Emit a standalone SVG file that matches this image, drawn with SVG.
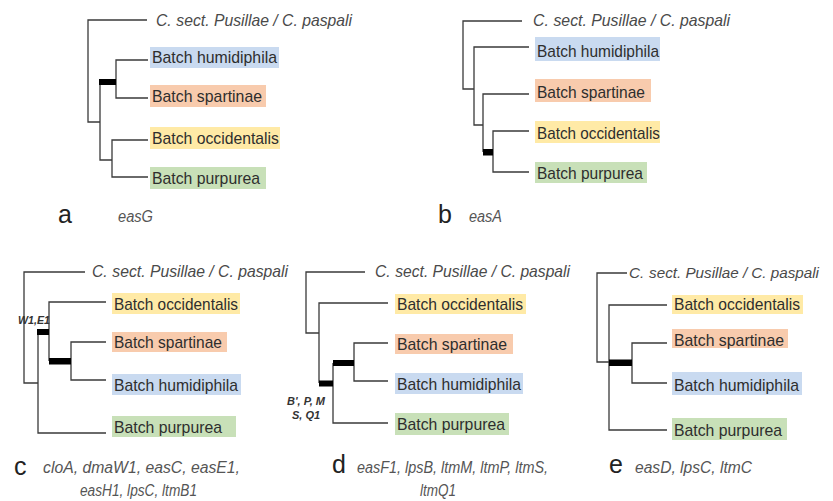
<svg xmlns="http://www.w3.org/2000/svg" width="833" height="501" viewBox="0 0 833 501">
<style>
  .ln { fill: none; stroke: #3a3a3a; stroke-width: 1.3; }
  .bar { fill: #000; }
  .lab { font-family: "Liberation Sans", Arial, sans-serif; font-size: 17px; fill: #2e2e2e; }
  .og { font-family: "Liberation Sans", Arial, sans-serif; font-size: 17px; font-style: italic; fill: #4a4a4a; }
  .pl { font-family: "Liberation Sans", Arial, sans-serif; font-size: 25px; fill: #222; }
  .gn { font-family: "Liberation Sans", Arial, sans-serif; font-size: 16px; font-style: italic; fill: #555; }
  .ev { font-family: "Liberation Sans", Arial, sans-serif; font-size: 11px; font-style: italic; font-weight: bold; fill: #333; }
  .hum { fill: #c9daf0; }
  .spa { fill: #f8cbad; }
  .occ { fill: #ffeaa6; }
  .pur { fill: #c8e0b8; }
</style>
<rect width="833" height="501" fill="#fff"/>

<g id="connectors">
  <!-- panel a -->
  <path class="ln" d="M147,20 H88 V122 H100"/>
  <path class="ln" d="M100,82 V160 H112"/>
  <path class="ln" d="M148,60 H116 V98 H148"/>
  <path class="ln" d="M148,140 H112 V177 H148"/>
  <rect class="bar" x="99" y="79" width="17" height="6"/>
  <!-- panel b -->
  <path class="ln" d="M522,21 H463 V89 H474"/>
  <path class="ln" d="M529,47 H474 V125 H483"/>
  <path class="ln" d="M529,94 H483 V152"/>
  <path class="ln" d="M529,131 H493 V172 H529"/>
  <rect class="bar" x="483" y="149" width="10" height="6.5"/>
  <!-- panel c -->
  <path class="ln" d="M85,272 H24 V383 H38"/>
  <path class="ln" d="M38,332 V433 H106"/>
  <path class="ln" d="M106,302 H49 V361"/>
  <path class="ln" d="M106,342 H71 V380 H106"/>
  <rect class="bar" x="37" y="329" width="12" height="6"/>
  <rect class="bar" x="49" y="358" width="22" height="6.5"/>
  <!-- panel d -->
  <path class="ln" d="M365,272 H306 V333 H319"/>
  <path class="ln" d="M388,303 H319 V383"/>
  <path class="ln" d="M333,363 V423 H388"/>
  <path class="ln" d="M388,343 H354 V381 H388"/>
  <rect class="bar" x="319" y="380.5" width="14" height="6"/>
  <rect class="bar" x="333" y="360" width="21" height="6"/>
  <!-- panel e -->
  <path class="ln" d="M627,273 H597 V362 H609"/>
  <path class="ln" d="M667,305 H609 V430 H667"/>
  <path class="ln" d="M667,343 H632 V383 H667"/>
  <rect class="bar" x="609" y="359.5" width="23" height="6.5"/>
</g>

<!-- panel a -->
<g id="a-out"><text class="og" x="156" y="26" textLength="196" lengthAdjust="spacingAndGlyphs">C.<tspan dx="5">sect. Pusillae / C. paspali</tspan></text></g>
<g id="a-hum"><rect class="hum" x="150" y="47" width="129" height="21"/><text class="lab" x="152" y="63" textLength="125" lengthAdjust="spacingAndGlyphs">Batch humidiphila</text></g>
<g id="a-spa"><rect class="spa" x="150" y="85" width="116" height="22"/><text class="lab" x="152" y="102" textLength="110" lengthAdjust="spacingAndGlyphs">Batch spartinae</text></g>
<g id="a-occ"><rect class="occ" x="150" y="127" width="130" height="22"/><text class="lab" x="152" y="144" textLength="127" lengthAdjust="spacingAndGlyphs">Batch occidentalis</text></g>
<g id="a-pur"><rect class="pur" x="150" y="167" width="116" height="22"/><text class="lab" x="152" y="184" textLength="108" lengthAdjust="spacingAndGlyphs">Batch purpurea</text></g>
<g id="a-cap"><text class="pl" x="58" y="223">a</text><text class="gn" x="118" y="222" textLength="35" lengthAdjust="spacingAndGlyphs">easG</text></g>

<!-- panel b -->
<g id="b-out"><text class="og" x="533" y="26" textLength="197" lengthAdjust="spacingAndGlyphs">C.<tspan dx="5">sect. Pusillae / C. paspali</tspan></text></g>
<g id="b-hum"><rect class="hum" x="535" y="37" width="125" height="24"/><text class="lab" x="537" y="57" textLength="122" lengthAdjust="spacingAndGlyphs">Batch humidiphila</text></g>
<g id="b-spa"><rect class="spa" x="535" y="79" width="116" height="23"/><text class="lab" x="537" y="98" textLength="108" lengthAdjust="spacingAndGlyphs">Batch spartinae</text></g>
<g id="b-occ"><rect class="occ" x="535" y="121" width="125" height="22"/><text class="lab" x="537" y="139" textLength="123" lengthAdjust="spacingAndGlyphs">Batch occidentalis</text></g>
<g id="b-pur"><rect class="pur" x="535" y="162" width="112" height="21"/><text class="lab" x="537" y="179" textLength="106" lengthAdjust="spacingAndGlyphs">Batch purpurea</text></g>
<g id="b-cap"><text class="pl" x="438" y="223">b</text><text class="gn" x="469" y="222" textLength="33" lengthAdjust="spacingAndGlyphs">easA</text></g>

<!-- panel c -->
<g id="c-out"><text class="og" x="92" y="277" textLength="196" lengthAdjust="spacingAndGlyphs">C.<tspan dx="5">sect. Pusillae / C. paspali</tspan></text></g>
<g id="c-occ"><rect class="occ" x="112" y="293" width="128" height="21"/><text class="lab" x="114" y="310" textLength="124" lengthAdjust="spacingAndGlyphs">Batch occidentalis</text></g>
<g id="c-spa"><rect class="spa" x="112" y="332" width="115" height="20"/><text class="lab" x="114" y="348" textLength="108" lengthAdjust="spacingAndGlyphs">Batch spartinae</text></g>
<g id="c-hum"><rect class="hum" x="112" y="374" width="129" height="21"/><text class="lab" x="114" y="391" textLength="124" lengthAdjust="spacingAndGlyphs">Batch humidiphila</text></g>
<g id="c-pur"><rect class="pur" x="112" y="416" width="124" height="21"/><text class="lab" x="114" y="433" textLength="108" lengthAdjust="spacingAndGlyphs">Batch purpurea</text></g>
<g id="c-ev"><text class="ev" x="18" y="324" textLength="32" lengthAdjust="spacingAndGlyphs">W1,E1</text></g>
<g id="c-cap"><text class="pl" x="14" y="475">c</text><text class="gn" x="43" y="473" textLength="197" lengthAdjust="spacingAndGlyphs">cloA, dmaW1, easC, easE1,</text><text class="gn" x="80" y="496" textLength="117" lengthAdjust="spacingAndGlyphs">easH1, lpsC, ltmB1</text></g>

<!-- panel d -->
<g id="d-out"><text class="og" x="375" y="277" textLength="195" lengthAdjust="spacingAndGlyphs">C.<tspan dx="5">sect. Pusillae / C. paspali</tspan></text></g>
<g id="d-occ"><rect class="occ" x="395" y="294" width="131" height="20"/><text class="lab" x="397" y="310" textLength="126" lengthAdjust="spacingAndGlyphs">Batch occidentalis</text></g>
<g id="d-spa"><rect class="spa" x="395" y="334" width="118" height="20"/><text class="lab" x="397" y="350" textLength="110" lengthAdjust="spacingAndGlyphs">Batch spartinae</text></g>
<g id="d-hum"><rect class="hum" x="395" y="373" width="128" height="21"/><text class="lab" x="397" y="390" textLength="124" lengthAdjust="spacingAndGlyphs">Batch humidiphila</text></g>
<g id="d-pur"><rect class="pur" x="395" y="413" width="114" height="22"/><text class="lab" x="397" y="430" textLength="108" lengthAdjust="spacingAndGlyphs">Batch purpurea</text></g>
<g id="d-ev"><text class="ev" x="306" y="405" text-anchor="middle">B', P, M</text><text class="ev" x="306" y="419" text-anchor="middle">S, Q1</text></g>
<g id="d-cap"><text class="pl" x="332" y="473">d</text><text class="gn" x="357" y="473" textLength="191" lengthAdjust="spacingAndGlyphs">easF1, lpsB, ltmM, ltmP, ltmS,</text><text class="gn" x="420" y="496" textLength="36" lengthAdjust="spacingAndGlyphs">ltmQ1</text></g>

<!-- panel e -->
<g id="e-out"><text class="og" x="629" y="278" style="font-size:15.5px" textLength="190" lengthAdjust="spacingAndGlyphs">C.<tspan dx="5">sect. Pusillae / C. paspali</tspan></text></g>
<g id="e-occ"><rect class="occ" x="672" y="295" width="131" height="19"/><text class="lab" x="674" y="310" textLength="126" lengthAdjust="spacingAndGlyphs">Batch occidentalis</text></g>
<g id="e-spa"><rect class="spa" x="672" y="329" width="116" height="19"/><text class="lab" x="674" y="346" textLength="110" lengthAdjust="spacingAndGlyphs">Batch spartinae</text></g>
<g id="e-hum"><rect class="hum" x="672" y="372" width="130" height="23"/><text class="lab" x="674" y="391" textLength="125" lengthAdjust="spacingAndGlyphs">Batch humidiphila</text></g>
<g id="e-pur"><rect class="pur" x="672" y="418" width="115" height="22"/><text class="lab" x="674" y="436" textLength="108" lengthAdjust="spacingAndGlyphs">Batch purpurea</text></g>
<g id="e-cap"><text class="pl" x="609" y="473">e</text><text class="gn" x="635" y="473" textLength="117" lengthAdjust="spacingAndGlyphs">easD, lpsC, ltmC</text></g>
</svg>
